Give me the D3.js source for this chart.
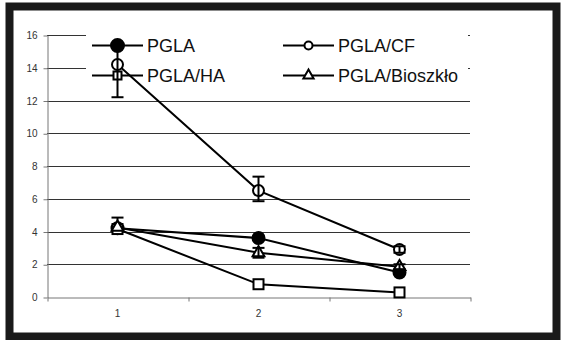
<!DOCTYPE html>
<html>
<head>
<meta charset="utf-8">
<script src="https://cdn.jsdelivr.net/npm/d3@7"></script>
<style>
    body { margin: 0; background: #fff; }
    svg { display: block; font-family: "Liberation Sans", Arial, sans-serif; }
</style>
</head>
<body>
<div class="container"></div>
<script>
var SVG_WIDTH = 562;
var SVG_HEIGHT = 340;

// data
var categories = [1, 2, 3];
var seriesNames = ['PGLA', 'PGLA/CF', 'PGLA/HA', 'PGLA/Bioszkło'];
var pgla = [4.2, 3.6, 1.5];
var pglaCF = [14.2, 6.5, 2.9];
var pglaHA = [4.15, 0.78, 0.28];
var pglaBio = [4.25, 2.7, 1.85];
// error bars (plus / minus)
var pglaErrPlus = [0.65, 0, 0];
var pglaErrMinus = [0, 0, 0];
var pglaCFErrPlus = [1.1, 0.85, 0.2];
var pglaCFErrMinus = [2.0, 0.65, 0.2];
var pglaHAErrPlus = [0, 0, 0];
var pglaHAErrMinus = [0, 0, 0];
var pglaBioErrPlus = [0, 0.3, 0.15];
var pglaBioErrMinus = [0, 0.3, 0.15];
var yTicks = [0, 2, 4, 6, 8, 10, 12, 14, 16];

var series = [
    { name: seriesNames[0], values: pgla, plus: pglaErrPlus, minus: pglaErrMinus, shape: 'circle', fill: '#000' },
    { name: seriesNames[1], values: pglaCF, plus: pglaCFErrPlus, minus: pglaCFErrMinus, shape: 'circle', fill: '#fff' },
    { name: seriesNames[2], values: pglaHA, plus: pglaHAErrPlus, minus: pglaHAErrMinus, shape: 'square', fill: '#fff' },
    { name: seriesNames[3], values: pglaBio, plus: pglaBioErrPlus, minus: pglaBioErrMinus, shape: 'triangle', fill: '#fff' }
];

var svg = d3.select('.container')
    .append('svg')
    .attr('width', SVG_WIDTH)
    .attr('height', SVG_HEIGHT);

// black frame
svg.append('rect')
    .attr('x', 9.5).attr('y', 6.5)
    .attr('width', 547).attr('height', 330)
    .attr('fill', 'none')
    .attr('stroke', '#1a1a1a')
    .attr('stroke-width', 8);

var x = d3.scaleLinear().domain([0.5, 3.5]).range([47, 470]);
var y = d3.scaleLinear().domain([0, 16]).range([297, 35]);

// gridlines
svg.append('g')
    .selectAll('line')
    .data(yTicks.slice(1))
    .enter()
    .append('line')
    .attr('x1', x(0.5)).attr('x2', x(3.5))
    .attr('y1', function (d) { return Math.round(y(d)) + 0.5; })
    .attr('y2', function (d) { return Math.round(y(d)) + 0.5; })
    .attr('stroke', '#333')
    .attr('stroke-width', 1);

// y axis
var yAxis = svg.append('g')
    .attr('transform', 'translate(' + (x(0.5) + 0.5) + ',0.5)')
    .call(d3.axisLeft(y).tickValues(yTicks).tickSize(4).tickSizeOuter(0));
yAxis.select('.domain').attr('stroke', '#777');
yAxis.selectAll('.tick line').attr('stroke', '#777');
yAxis.selectAll('.tick text')
    .attr('x', -10)
    .attr('fill', '#333')
    .style('font-size', '10px')
    .style('font-family', '"Liberation Sans", Arial, sans-serif');

// x axis
var xAxis = svg.append('g')
    .attr('transform', 'translate(0.5,' + (y(0) + 0.5) + ')')
    .call(d3.axisBottom(x).tickValues([0.5, 1.5, 2.5, 3.5]).tickSize(4).tickSizeOuter(0).tickFormat(''));
xAxis.select('.domain').attr('stroke', '#777');
xAxis.selectAll('.tick line').attr('stroke', '#777');

svg.append('g')
    .selectAll('text')
    .data(categories)
    .enter()
    .append('text')
    .attr('x', function (d) { return x(d); })
    .attr('y', 317)
    .attr('text-anchor', 'middle')
    .attr('fill', '#333')
    .style('font-size', '10px')
    .text(function (d) { return d; });

// marker helper
function marker(sel, shape, fill, big) {
    if (shape === 'circle') {
        sel.append('circle')
            .attr('r', fill === '#000' ? (big ? 6 : 6.5) : (big ? 5.5 : 4))
            .attr('fill', fill)
            .attr('stroke', '#000')
            .attr('stroke-width', 2);
    } else if (shape === 'square') {
        var s = big ? 10 : 8;
        sel.append('rect')
            .attr('x', -s / 2).attr('y', -s / 2)
            .attr('width', s).attr('height', s)
            .attr('fill', fill)
            .attr('stroke', '#000')
            .attr('stroke-width', 2);
    } else {
        sel.append('path')
            .attr('d', d3.symbol().type(d3.symbolTriangle).size(big ? 60 : 45)())
            .attr('fill', fill)
            .attr('stroke', '#000')
            .attr('stroke-width', 2);
    }
}

// legend (white box under the data)
var legend = svg.append('g');
legend.append('rect')
    .attr('x', 86).attr('y', 28)
    .attr('width', 382).attr('height', 60)
    .attr('fill', '#fff');

var legendItem = legend.selectAll('g')
    .data(series)
    .enter()
    .append('g')
    .attr('transform', function (d, i) {
        return 'translate(' + (i % 2 === 0 ? 92 : 283) + ',' + (i < 2 ? 45.5 : 75.5) + ')';
    });

legendItem.append('line')
    .attr('x1', 0).attr('x2', 51)
    .attr('stroke', '#000')
    .attr('stroke-width', 2);

legendItem.each(function (d) {
    var g = d3.select(this).append('g').attr('transform', 'translate(25.5,0)');
    marker(g, d.shape, d.fill, false);
});

legendItem.append('text')
    .attr('x', 55)
    .attr('y', 6.5)
    .attr('fill', '#111')
    .style('font-size', '18px')
    .text(function (d) { return d.name; });

// series lines, markers and error bars
var line = d3.line()
    .x(function (d, i) { return x(categories[i]); })
    .y(function (d) { return y(d); });

var seriesG = svg.append('g')
    .selectAll('g')
    .data(series)
    .enter()
    .append('g');

seriesG.append('path')
    .attr('d', function (d) { return line(d.values); })
    .attr('fill', 'none')
    .attr('stroke', '#000')
    .attr('stroke-width', 2);

seriesG.each(function (s) {
    var g = d3.select(this);
    s.values.forEach(function (v, i) {
        var m = g.append('g')
            .attr('transform', 'translate(' + x(categories[i]) + ',' + y(v) + ')');
        marker(m, s.shape, s.fill, true);
    });
    s.values.forEach(function (v, i) {
        if (!s.plus[i] && !s.minus[i]) return;
        var cx = x(categories[i]);
        var top = y(v + s.plus[i]);
        var bot = y(v - s.minus[i]);
        g.append('line')
            .attr('x1', cx).attr('x2', cx)
            .attr('y1', top).attr('y2', bot)
            .attr('stroke', '#000').attr('stroke-width', 2);
        if (s.plus[i]) {
            g.append('line')
                .attr('x1', cx - 6).attr('x2', cx + 6)
                .attr('y1', top).attr('y2', top)
                .attr('stroke', '#000').attr('stroke-width', 2);
        }
        if (s.minus[i]) {
            g.append('line')
                .attr('x1', cx - 6).attr('x2', cx + 6)
                .attr('y1', bot).attr('y2', bot)
                .attr('stroke', '#000').attr('stroke-width', 2);
        }
    });
});
</script>
</body>
</html>
